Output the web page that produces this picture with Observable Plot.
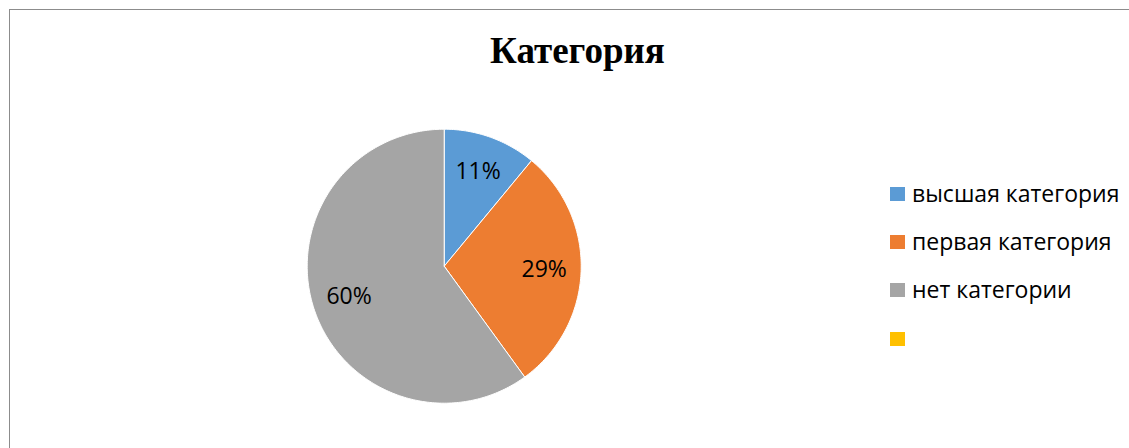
<!DOCTYPE html>
<html>
<head>
<meta charset="utf-8">
<script src="https://cdn.jsdelivr.net/npm/d3@7"></script>
<script src="https://cdn.jsdelivr.net/npm/@observablehq/plot@0.6"></script>
<style>
  html, body { margin: 0; padding: 0; background: #fff; }
  #wrap { position: relative; width: 1129px; height: 448px; overflow: hidden; background: #fff; }
  #frame { position: absolute; left: 9px; top: 9px; width: 1200px; height: 500px;
           border-top: 1px solid #8c8c8c; border-left: 1px solid #8c8c8c; box-sizing: border-box; }
  #title { position: absolute; left: 0; width: 1155px; top: 29px; text-align: center;
           font-family: "Liberation Serif", "Times New Roman", serif; font-weight: bold; font-size: 37px; color: #000; }
  #chart { position: absolute; left: 0; top: 0; }
  #legend { position: absolute; left: 890px; top: 180px; font-family: "Open Sans", sans-serif; font-size: 23px; color: #000; }
  .row { height: 48.2px; display: flex; align-items: flex-start; white-space: nowrap; }
  .sw { width: 15px; height: 14px; margin-top: 7px; margin-right: 7px; flex: none; }
  .lt { line-height: 26px; margin-top: 0px; }
</style>
</head>
<body>
<div id="wrap">
  <div id="frame"></div>
  <div id="title">Категория</div>
  <div id="chart"></div>
  <div id="legend"></div>
</div>
<script>
const titleText = "Категория";
const categories = ["высшая категория", "первая категория", "нет категории", ""];
const values = [11, 29, 60, 0];
const colors = ["#5B9BD5", "#ED7D31", "#A5A5A5", "#FFC000"];

const cx = 443.7, cy = 265.7, R = 137;

const rows = categories.map((c, i) => ({cat: c, value: values[i]}));
const total = d3.sum(values);
const arcs = d3.pie().sort(null).value(d => d.value)(rows).filter(a => a.data.value > 0);

const poly = [];
for (const a of arcs) {
  const n = Math.max(4, Math.ceil((a.endAngle - a.startAngle) / (Math.PI / 180)));
  poly.push({cat: a.data.cat, x: 0, y: 0});
  for (let k = 0; k <= n; k++) {
    const t = a.startAngle + (a.endAngle - a.startAngle) * k / n;
    poly.push({cat: a.data.cat, x: Math.sin(t), y: Math.cos(t)});
  }
  poly.push({cat: a.data.cat, x: 0, y: 0});
}
const labels = arcs.map(a => {
  const m = (a.startAngle + a.endAngle) / 2;
  return {x: 0.73 * Math.sin(m), y: 0.73 * Math.cos(m), text: Math.round(a.data.value / total * 100) + "%"};
});

const plot = Plot.plot({
  width: 1129, height: 448, margin: 0,
  x: {domain: [-1, 1], range: [cx - R, cx + R], axis: null},
  y: {domain: [-1, 1], range: [cy + R, cy - R], axis: null},
  color: {domain: categories, range: colors},
  style: {background: "transparent", overflow: "visible"},
  marks: [
    Plot.line(poly, {x: "x", y: "y", z: "cat", fill: "cat", stroke: "white", strokeWidth: 1, curve: "linear"}),
    Plot.text(labels, {x: "x", y: "y", text: "text", fontSize: 23, fontFamily: "Open Sans", fill: "#000"})
  ]
});
document.getElementById("chart").appendChild(plot);
document.getElementById("title").textContent = titleText;

const lg = document.getElementById("legend");
categories.forEach((c, i) => {
  const r = document.createElement("div"); r.className = "row";
  const s = document.createElement("div"); s.className = "sw"; s.style.background = colors[i];
  const t = document.createElement("div"); t.className = "lt"; t.textContent = c;
  r.appendChild(s); r.appendChild(t); lg.appendChild(r);
});
</script>
</body>
</html>
